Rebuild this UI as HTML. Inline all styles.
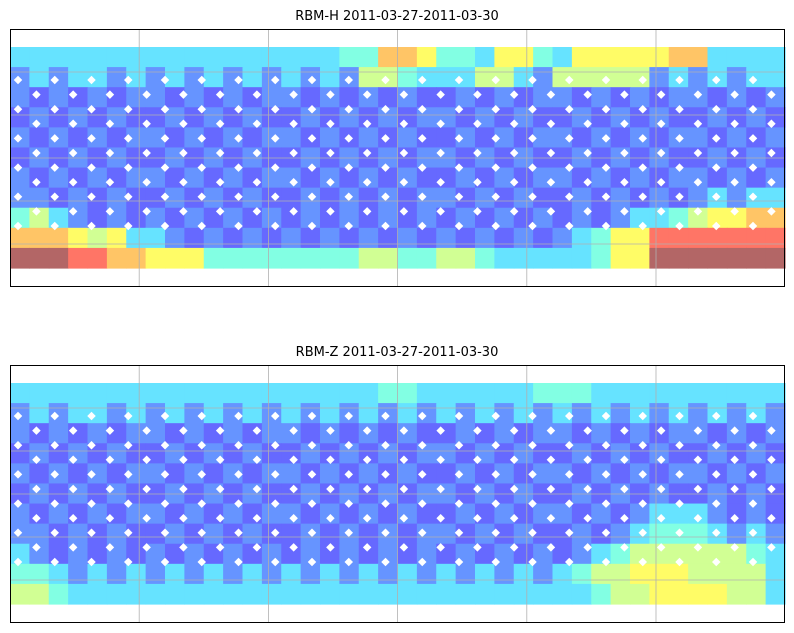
<!DOCTYPE html>
<html><head><meta charset="utf-8"><style>
html,body{margin:0;padding:0;background:#fff;}
svg{display:block;}
text{font-family:"DejaVu Sans","Liberation Sans",sans-serif;}
</style></head><body>
<svg id="fig" width="794" height="633" xmlns="http://www.w3.org/2000/svg">
  <g id="p0"></g>
  <g id="p1"></g>
</svg>
<script>
// Heatmap values (digit codes -> level on jet colormap), 11 rows x 40 columns per panel
const titles = ["RBM-H 2011-03-27-2011-03-30", "RBM-Z 2011-03-27-2011-03-30"];
const levels = [0.0, 0.13, 0.2, 0.33, 0.42, 0.55, 0.63, 0.72, 0.85, 1.0];
const rowsH = [
  "3333333333333333344776443664366666773333",
  "2323323232323232325543335532555552323233",
  "2121212212121221212121121212212121221212",
  "1212121121212112121212212121121212112121",
  "2121212212121221212121121212212121221212",
  "1212121121212112121212212121121212112121",
  "2121212212121221212121121212212121221212",
  "2212121121212112121212212121121212123233",
  "4532121212121212121212121212121233456677",
  "7776563321212121212121212121234668888888",
  "9998877666444444445544554333334669999999"
];
const rowsZ = [
  "3333333333333333333443333334443333333333",
  "2323323232323232323232323232323232323232",
  "2121212212121221212121121212212121221212",
  "1212121121212112121212212121121212112121",
  "2121212212121221212121121212212121221212",
  "1212121121212112121212212121121212112121",
  "2121212212121221212121121212212123332121",
  "2212121121212112121212212121121234443232",
  "3212121212121212121212121212123455555543",
  "4432323232323232323232323232345566655553",
  "5543333333333333333333333333334556666553"
];
const panelSeries = [rowsH, rowsZ];
const lonTicks = [0, 1, 2, 3, 4, 5, 6];
const latTicks = [0, 1, 2, 3, 4, 5, 6];

function jet(v){
  const r = Math.min(Math.max(Math.min(4*v-1.5, -4*v+4.5),0),1);
  const g = Math.min(Math.max(Math.min(4*v-0.5, -4*v+3.5),0),1);
  const b = Math.min(Math.max(Math.min(4*v+0.5, -4*v+2.5),0),1);
  const a = 0.6;
  const m = c => Math.round(a*c*255 + (1-a)*255);
  return `rgb(${m(r)},${m(g)},${m(b)})`;
}
const NS = "http://www.w3.org/2000/svg";
function mk(tag, attrs, parent){
  const e = document.createElementNS(NS, tag);
  for (const k in attrs) e.setAttribute(k, attrs[k]);
  parent.appendChild(e);
  return e;
}
const panels = [{top:29}, {top:365}];
panels.forEach((p, pi) => {
  const g = document.getElementById('p' + pi);
  const boxL = 10, boxR = 785, boxT = p.top, boxB = p.top + 258;
  const dataT = boxT + 18, dataB = boxT + 239;
  const rows = panelSeries[pi];
  const nR = rows.length, nC = rows[0].length;
  const cw = (boxR - boxL) / nC, ch = (dataB - dataT) / nR;
  const xs = c => boxL + c * cw;
  const ys = r => dataT + r * ch;
  const t = mk('text', {x: 397, y: boxT - 9, 'text-anchor': 'middle', 'font-size': 13, fill: '#000'}, g);
  t.textContent = titles[pi];
  
  
  const hm = mk('g', {}, g);
  
  
  rows.forEach((row, r) => {
    for (let c = 0; c < nC; c++) {
      const v = levels[parseInt(row[c])];
      const cell = mk('rect', {x: xs(c).toFixed(2), y: ys(r).toFixed(2), width: (cw + 0.6).toFixed(2), height: (ch + 0.6).toFixed(2), fill: jet(v)}, hm);
      
      
    }
  });
  // station markers
  const mg = mk('g', {fill: '#fff'}, g);
  
  
  for (let i = 0; i < 11; i++) {
    const y = boxT + 51 + i * 14.6;
    for (let j = 0; j < 22; j++) {
      const x = 18 + j * 36.75 + (i % 2) * 18.4;
      if (x > 782) continue;
      const d = mk('rect', {x: x - 3, y: y - 3, width: 6, height: 6, transform: `rotate(45 ${x} ${y})`}, mg);
      
      
    }
  }
  // gridlines
  const gg = mk('g', {stroke: '#b0b0b0', 'stroke-width': 0.8}, g);
  
  
  lonTicks.forEach(k => {
    const x = boxL + k * 129.2;
    if (k > 0 && k < 6) mk('line', {x1: x, x2: x, y1: boxT, y2: boxB}, gg);
  });
  latTicks.forEach(k => {
    const y = boxT + 43 + (k - 1) * 43;
    if (k > 0 && k < 6) mk('line', {x1: boxL, x2: boxR, y1: y, y2: y}, gg);
  });
  const box = mk('rect', {x: boxL + 0.5, y: boxT + 0.5, width: boxR - boxL - 1, height: boxB - boxT - 1, fill: 'none', stroke: '#000', 'stroke-width': 1}, g);
  
  
});
</script>
</body></html>
